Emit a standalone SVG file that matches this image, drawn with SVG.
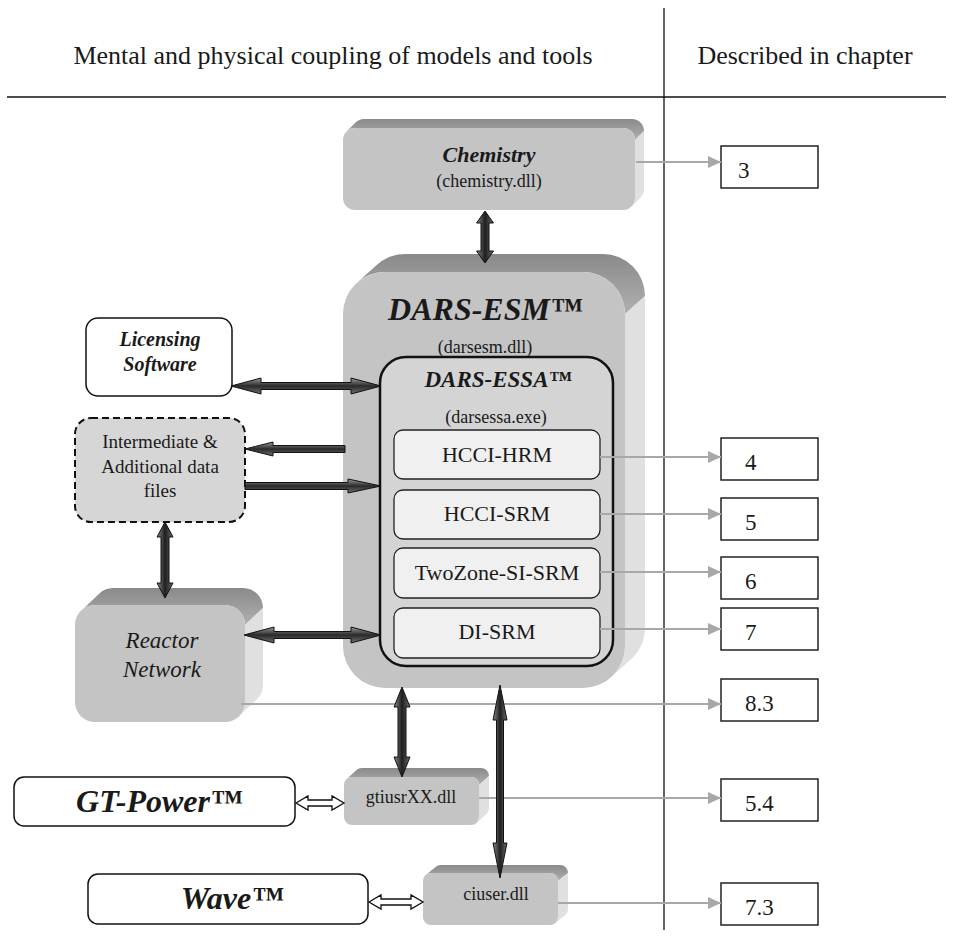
<svg xmlns="http://www.w3.org/2000/svg" width="956" height="940" viewBox="0 0 956 940" font-family="'Liberation Serif','DejaVu Serif',serif">
<defs>
<style>
text{font-family:'Liberation Serif','DejaVu Serif',serif;fill:#1a1a1a;text-anchor:middle}
.hd{font-size:26px}
.bi{font-weight:bold;font-style:italic}
.sm{font-size:18px}
.md{font-size:22px}
.ch{font-size:23px;text-anchor:start}
.front{fill:#c4c4c4}
.top{fill:url(#gTop)}
.side{fill:#e0e0e0}
.frame{fill:#fff;stroke:#111;stroke-width:1.5}
.sub{fill:#f0f0f0;stroke:#222;stroke-width:1.3}
.chap{fill:#fff;stroke:#222;stroke-width:1.5}
.gl{stroke:#a8a8a8;stroke-width:2;fill:none;marker-end:url(#ga)}
.th{fill:url(#gH);stroke:#111;stroke-width:1}
.tv{fill:url(#gV);stroke:#111;stroke-width:1}
.ho{fill:#fff;stroke:#111;stroke-width:1.3}
</style>
<linearGradient id="gTop" x1="0" y1="0" x2="0" y2="1">
<stop offset="0" stop-color="#8a8a8a"/><stop offset="1" stop-color="#b0b0b0"/>
</linearGradient>
<linearGradient id="gH" x1="0" y1="0" x2="0" y2="1">
<stop offset="0" stop-color="#9a9a9a"/><stop offset="0.5" stop-color="#2a2a2a"/><stop offset="1" stop-color="#707070"/>
</linearGradient>
<linearGradient id="gV" x1="0" y1="0" x2="1" y2="0">
<stop offset="0" stop-color="#8a8a8a"/><stop offset="0.5" stop-color="#1e1e1e"/><stop offset="1" stop-color="#6a6a6a"/>
</linearGradient>
<marker id="ga" markerUnits="userSpaceOnUse" markerWidth="13" markerHeight="12" refX="13" refY="6" orient="auto">
<path d="M0,0 L13,6 L0,12 Z" fill="#a8a8a8"/>
</marker>
</defs>

<g id="header">
<text class="hd" x="333" y="64">Mental and physical coupling of models and tools</text>
<text class="hd" x="805" y="64" font-size="28">Described in chapter</text>
<line x1="7" y1="97" x2="946" y2="97" stroke="#111" stroke-width="1.5"/>
<line x1="664" y1="8" x2="664" y2="930" stroke="#111" stroke-width="1.3"/>
</g>

<g id="chemistry">
<path class="top" d="M346.5,131.5 L355.5,122.5 A12 12 0 0 1 364,119 L632,119 A12 12 0 0 1 644,131 L635,140 A12 12 0 0 0 623,128 L355,128 A12 12 0 0 0 346.5,131.5 Z"/>
<path class="side" d="M635,140 L644,131 L644,189 A12 12 0 0 1 640.5,197.5 L631.5,206.5 A12 12 0 0 0 635,198 Z"/>
<rect class="front" x="343" y="128" width="292" height="82" rx="12"/>
<text class="bi" x="489" y="162" font-size="22">Chemistry</text>
<text class="sm" x="489" y="187">(chemistry.dll)</text>
</g>

<g id="dars-esm">
<path class="top" d="M355.3,284.3 L375.3,266.3 A42 42 0 0 1 405,254 L603,254 A42 42 0 0 1 645,296 L625,314 A42 42 0 0 0 583,272 L385,272 A42 42 0 0 0 355.3,284.3 Z"/>
<path class="side" d="M625,314 L645,296 L645,628 A42 42 0 0 1 632.7,657.7 L612.7,675.7 A42 42 0 0 0 625,646 Z"/>
<rect class="front" x="343" y="272" width="282" height="416" rx="42"/>
<text class="bi" x="485" y="320" font-size="32">DARS-ESM™</text>
<text class="sm" x="485" y="353">(darsesm.dll)</text>
</g>

<g id="dars-essa">
<rect x="380" y="357" width="233" height="309" rx="26" fill="#d4d4d4" stroke="#111" stroke-width="2.5"/>
<text class="bi" x="498" y="387" font-size="23">DARS-ESSA™</text>
<text class="sm" x="496" y="423">(darsessa.exe)</text>
</g>

<g id="hcci-hrm">
<rect class="sub" x="394" y="430" width="206" height="49" rx="9"/>
<text class="md" x="497" y="462">HCCI-HRM</text>
</g>
<g id="hcci-srm">
<rect class="sub" x="394" y="490" width="206" height="49" rx="9"/>
<text class="md" x="497" y="521">HCCI-SRM</text>
</g>
<g id="twozone-si-srm">
<rect class="sub" x="394" y="548" width="206" height="50" rx="9"/>
<text class="md" x="497" y="580">TwoZone-SI-SRM</text>
</g>
<g id="di-srm">
<rect class="sub" x="394" y="608" width="206" height="50" rx="9"/>
<text class="md" x="497" y="639">DI-SRM</text>
</g>

<g id="licensing">
<rect class="frame" x="86" y="318" width="146" height="78" rx="12"/>
<text class="bi" x="160" y="346" font-size="20">Licensing</text>
<text class="bi" x="160" y="371" font-size="20">Software</text>
</g>

<g id="intermediate">
<rect x="75" y="418" width="170" height="104" rx="16" fill="#d6d6d6" stroke="#111" stroke-width="2" stroke-dasharray="7 4"/>
<text x="160" y="448" font-size="19">Intermediate &amp;</text>
<text x="160" y="473" font-size="19">Additional data</text>
<text x="160" y="497" font-size="19">files</text>
</g>

<g id="reactor">
<path class="top" d="M80.9,610.9 L98.9,593.9 A20 20 0 0 1 113,588 L243,588 A20 20 0 0 1 263,608 L245,625 A20 20 0 0 0 225,605 L95,605 A20 20 0 0 0 80.9,610.9 Z"/>
<path class="side" d="M245,625 L263,608 L263,685 A20 20 0 0 1 257.1,699.1 L239.1,716.1 A20 20 0 0 0 245,702 Z"/>
<rect class="front" x="75" y="605" width="170" height="117" rx="20"/>
<text x="162" y="648" font-size="23" font-style="italic">Reactor</text>
<text x="162" y="677" font-size="23" font-style="italic">Network</text>
</g>

<g id="gtiusr">
<path class="top" d="M346.3,779.3 L356.3,770.3 A8 8 0 0 1 362,768 L481,768 A8 8 0 0 1 489,776 L479,785 A8 8 0 0 0 471,777 L352,777 A8 8 0 0 0 346.3,779.3 Z"/>
<path class="side" d="M479,785 L489,776 L489,808 A8 8 0 0 1 486.7,813.7 L476.7,822.7 A8 8 0 0 0 479,817 Z"/>
<rect class="front" x="344" y="777" width="135" height="48" rx="8"/>
<text class="sm" x="411" y="803">gtiusrXX.dll</text>
</g>

<g id="ciuser">
<path class="top" d="M425.3,875.3 L435.3,867.3 A8 8 0 0 1 441,865 L560,865 A8 8 0 0 1 568,873 L558,881 A8 8 0 0 0 550,873 L431,873 A8 8 0 0 0 425.3,875.3 Z"/>
<path class="side" d="M558,881 L568,873 L568,909 A8 8 0 0 1 565.7,914.7 L555.7,922.7 A8 8 0 0 0 558,917 Z"/>
<rect class="front" x="423" y="873" width="135" height="52" rx="8"/>
<text class="sm" x="496" y="900">ciuser.dll</text>
</g>

<g id="gt-power">
<rect class="frame" x="14" y="777" width="281" height="49" rx="10"/>
<text class="bi" x="159" y="812" font-size="32">GT-Power™</text>
</g>

<g id="wave">
<rect class="frame" x="88" y="874" width="280" height="50" rx="10"/>
<text class="bi" x="232" y="909" font-size="32">Wave™</text>
</g>

<g id="chapters">
<rect class="chap" x="721" y="146" width="97" height="42"/><text class="ch" x="738" y="178">3</text>
<rect class="chap" x="721" y="438" width="97" height="42"/><text class="ch" x="745" y="470">4</text>
<rect class="chap" x="721" y="498" width="97" height="42"/><text class="ch" x="745" y="530">5</text>
<rect class="chap" x="721" y="557" width="97" height="42"/><text class="ch" x="745" y="589">6</text>
<rect class="chap" x="721" y="608" width="97" height="42"/><text class="ch" x="745" y="640">7</text>
<rect class="chap" x="721" y="679" width="97" height="42"/><text class="ch" x="745" y="711">8.3</text>
<rect class="chap" x="721" y="779" width="97" height="42"/><text class="ch" x="745" y="811">5.4</text>
<rect class="chap" x="721" y="883" width="97" height="42"/><text class="ch" x="745" y="915">7.3</text>
</g>

<g id="connectors">
<line class="gl" x1="636" y1="162" x2="721" y2="162"/>
<line class="gl" x1="600" y1="457" x2="721" y2="457"/>
<line class="gl" x1="600" y1="514" x2="721" y2="514"/>
<line class="gl" x1="600" y1="572" x2="721" y2="572"/>
<line class="gl" x1="600" y1="629" x2="721" y2="629"/>
<line class="gl" x1="241" y1="704" x2="721" y2="704"/>
<line class="gl" x1="479" y1="798" x2="721" y2="798"/>
<line class="gl" x1="558" y1="903" x2="721" y2="903"/>
<polygon class="tv" points="485,211 493.5,223 489,223 489,251 493.5,251 485,263 476.5,251 481,251 481,223 476.5,223"/>
<polygon class="th" points="231,386 261,378 261,382.5 351,382.5 351,378 381,386 351,394 351,389.5 261,389.5 261,394"/>
<polygon class="th" points="245,449 273,442 273,445.5 345,445.5 345,452.5 273,452.5 273,456"/>
<polygon class="th" points="381,486 348,479 348,482.5 245,482.5 245,489.5 348,489.5 348,493"/>
<polygon class="tv" points="165,522 173,537 169,537 169,583 173,583 165,598 157,583 161,583 161,537 157,537"/>
<polygon class="th" points="244,635 274,627 274,631.5 351,631.5 351,627 381,635 351,643 351,638.5 274,638.5 274,643"/>
<polygon class="tv" points="402,687 410,707 406,707 406,757 410,757 402,777 394,757 398,757 398,707 394,707"/>
<polygon class="tv" points="500,685 507,720 503.5,720 503.5,843 507,843 500,878 493,843 496.5,843 496.5,720 493,720"/>
<polygon class="ho" points="296,803 308,796 308,800 332,800 332,796 344,803 332,810 332,806 308,806 308,810"/>
<polygon class="ho" points="369,902 381,895 381,899 411,899 411,895 423,902 411,909 411,905 381,905 381,909"/>
</g>
</svg>
